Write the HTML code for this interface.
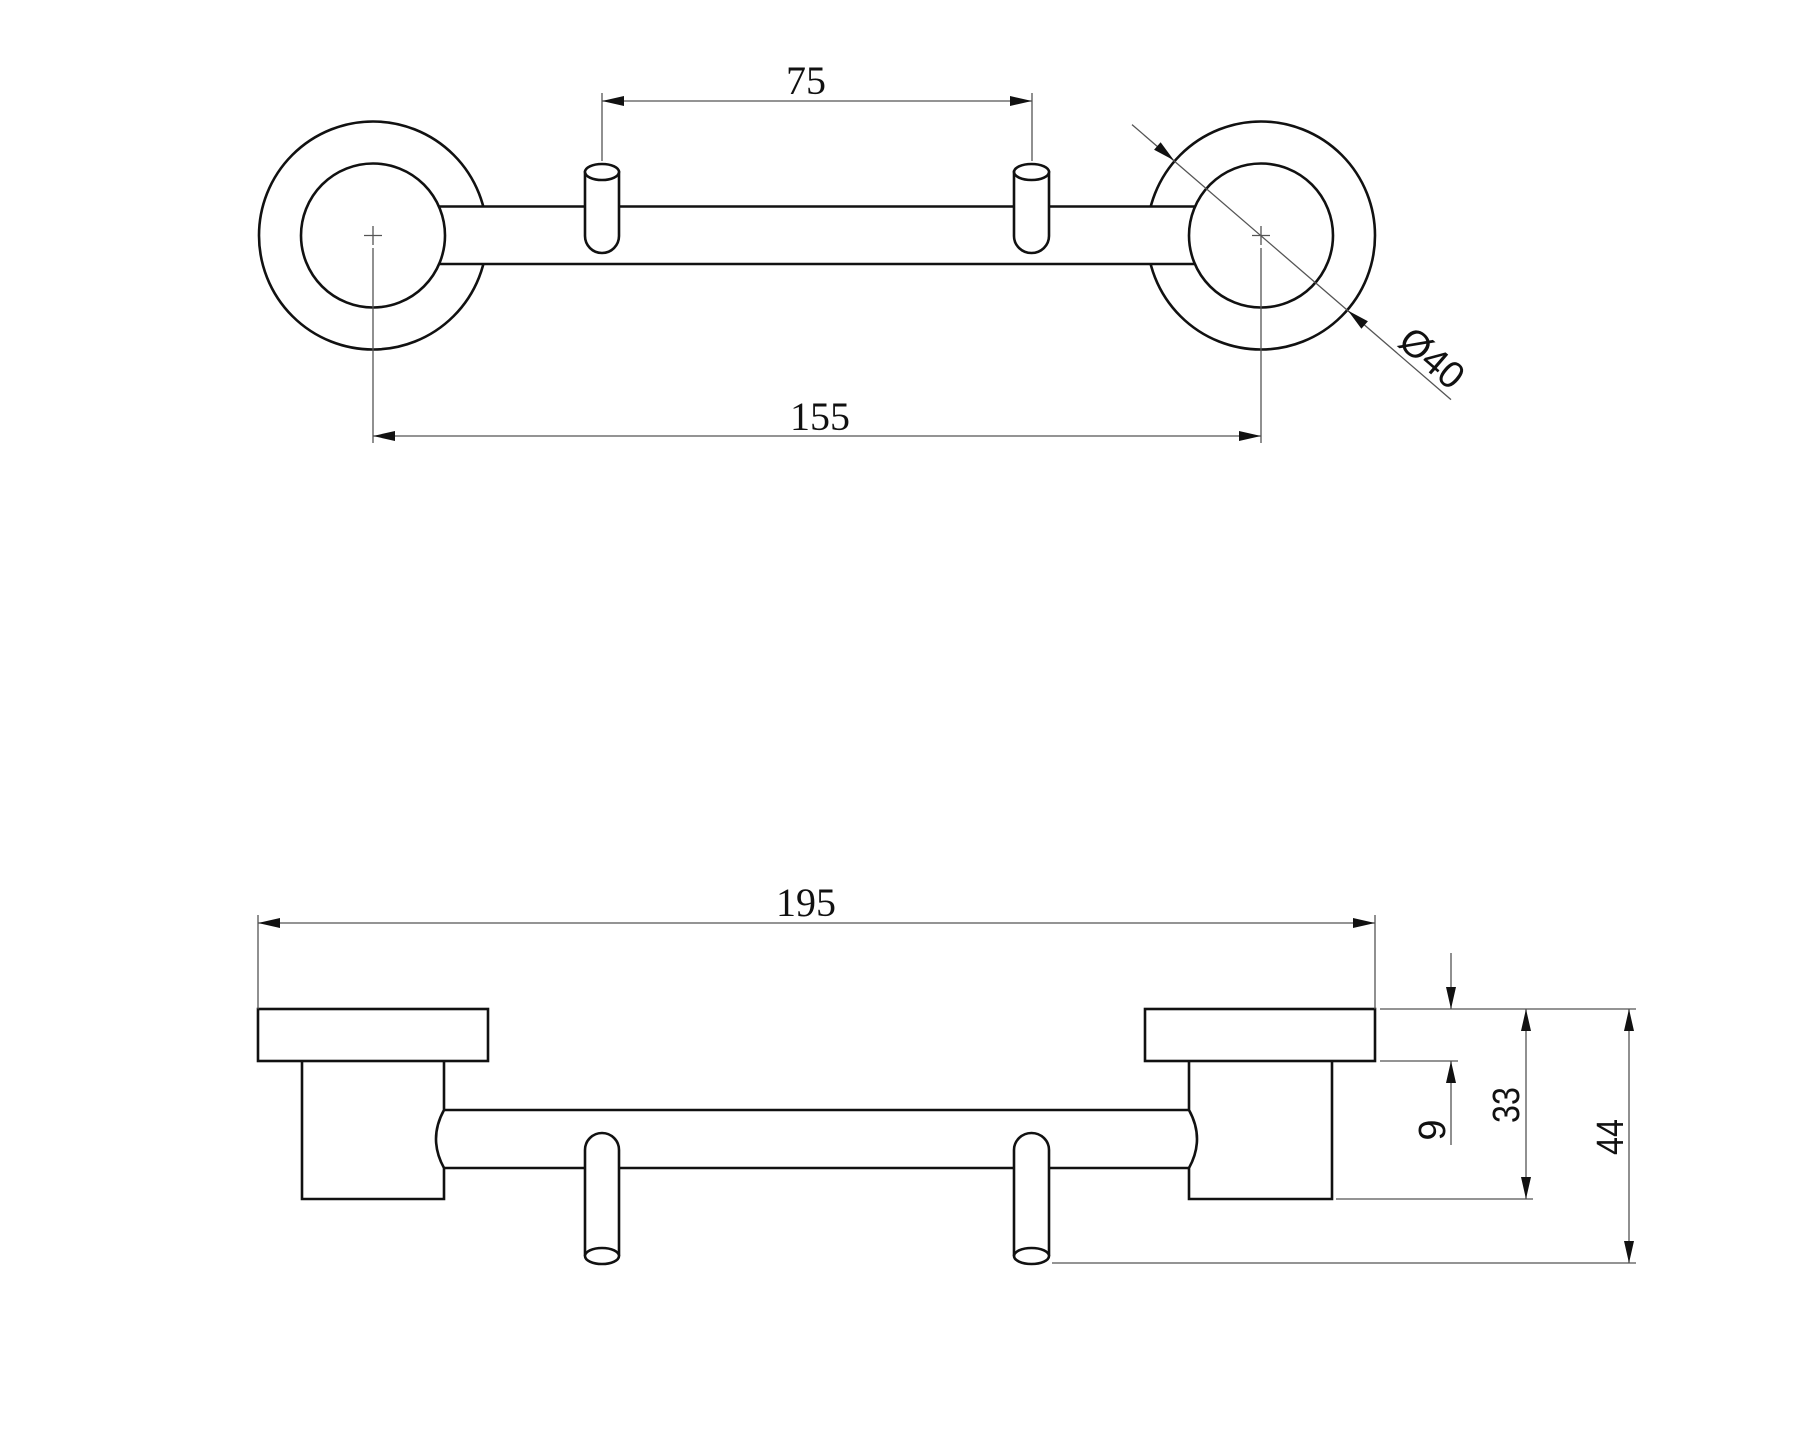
<!DOCTYPE html>
<html><head><meta charset="utf-8"><style>
html,body{margin:0;padding:0;background:#fff;}
svg{display:block;}
.o{fill:none;stroke:#111;stroke-width:2.6;}
.w{fill:#fff;stroke:#111;stroke-width:2.6;}
.d{fill:none;stroke:#555;stroke-width:1.3;}
.a{fill:#111;stroke:none;}
.ts{font-family:"Liberation Serif",serif;font-size:40px;fill:#111;}
.tn{font-family:"Liberation Sans",sans-serif;font-size:38px;fill:#111;}
</style></head><body>
<svg width="1800" height="1441" viewBox="0 0 1800 1441" xmlns="http://www.w3.org/2000/svg">
<!-- TOP VIEW -->
<circle class="o" cx="373" cy="235.5" r="114"/>
<circle class="o" cx="1261" cy="235.5" r="114"/>
<rect x="420" y="207" width="800" height="57" fill="#fff"/>
<line class="o" x1="420" y1="206.5" x2="1220" y2="206.5"/>
<line class="o" x1="420" y1="264" x2="1220" y2="264"/>
<circle class="w" cx="373" cy="235.5" r="72"/>
<circle class="w" cx="1261" cy="235.5" r="72"/>
<!-- center marks -->
<path class="d" d="M364 235.5h18M373 226v19M1252 235.5h18M1261 226v19"/>
<!-- pegs top -->
<path class="w" d="M585 172 V236 A17 17 0 0 0 619 236 V172 Z"/>
<ellipse class="w" cx="602" cy="172" rx="17" ry="8"/>
<path class="w" d="M1014 172 V236 A17.5 17 0 0 0 1049 236 V172 Z"/>
<ellipse class="w" cx="1031.5" cy="172" rx="17.5" ry="8"/>
<!-- 75 dim -->
<path class="d" d="M602 93V161M1032 93V161M602 101H1032"/>
<path class="a" d="M602 101l22-5v10z M1032 101l-22-5v10z"/>
<text class="ts" x="806" y="94" text-anchor="middle">75</text>
<!-- 155 dim -->
<path class="d" d="M373 248V443M1261 248V443M373 436H1261"/>
<path class="a" d="M373 436l22-5v10z M1261 436l-22-5v10z"/>
<text class="ts" x="820" y="430" text-anchor="middle">155</text>
<!-- dia 40 -->
<line class="d" x1="1132" y1="124.6" x2="1451" y2="399.6"/>
<g transform="translate(1174,160.4) rotate(40.8)">
<path class="a" d="M0 0l-22-5v10z"/></g>
<g transform="translate(1348,310.6) rotate(40.8)">
<path class="a" d="M0 0l22-5v10z"/></g>
<text class="tn" x="0" y="0" text-anchor="middle" transform="translate(1432,358) rotate(40.8) translate(0,13)">Ø40</text>

<!-- BOTTOM VIEW -->
<rect class="o" x="258" y="1009" width="230" height="52"/>
<rect class="o" x="1145" y="1009" width="230" height="52"/>
<path class="o" d="M444 1061V1110 Q428 1139 444 1168 V1199 H302 V1061"/>
<path class="o" d="M1189 1061V1110 Q1205 1139 1189 1168 V1199 H1332 V1061"/>
<line class="o" x1="444" y1="1110" x2="1189" y2="1110"/>
<line class="o" x1="444" y1="1168" x2="1189" y2="1168"/>
<!-- pegs bottom -->
<path class="w" d="M585 1256 V1150 A17 17 0 0 1 619 1150 V1256"/>
<ellipse class="w" cx="602" cy="1256" rx="17" ry="8"/>
<path class="w" d="M1014 1256 V1150 A17.5 17 0 0 1 1049 1150 V1256"/>
<ellipse class="w" cx="1031.5" cy="1256" rx="17.5" ry="8"/>
<!-- 195 dim -->
<path class="d" d="M258 915V1009M1375 915V1009M258 923H1375"/>
<path class="a" d="M258 923l22-5v10z M1375 923l-22-5v10z"/>
<text class="ts" x="806" y="916" text-anchor="middle">195</text>
<!-- ext lines right -->
<path class="d" d="M1380 1009H1636M1380 1061H1458M1336 1199H1533M1052 1263H1636"/>
<!-- 9 -->
<path class="d" d="M1451 953V1009M1451 1061V1145"/>
<path class="a" d="M1451 1009l-5-22h10z M1451 1061l-5 22h10z"/>
<text class="tn" x="0" y="0" text-anchor="middle" transform="translate(1432,1130) rotate(-90) translate(0,13)">9</text>
<!-- 33 -->
<path class="d" d="M1526 1009V1199"/>
<path class="a" d="M1526 1009l-5 22h10z M1526 1199l-5-22h10z"/>
<text class="tn" x="0" y="0" text-anchor="middle" transform="translate(1506,1105) rotate(-90) translate(0,13) scale(0.85,1)">33</text>
<!-- 44 -->
<path class="d" d="M1629 1009V1263"/>
<path class="a" d="M1629 1009l-5 22h10z M1629 1263l-5-22h10z"/>
<text class="tn" x="0" y="0" text-anchor="middle" transform="translate(1610,1137) rotate(-90) translate(0,13) scale(0.85,1)">44</text>
</svg>
</body></html>
